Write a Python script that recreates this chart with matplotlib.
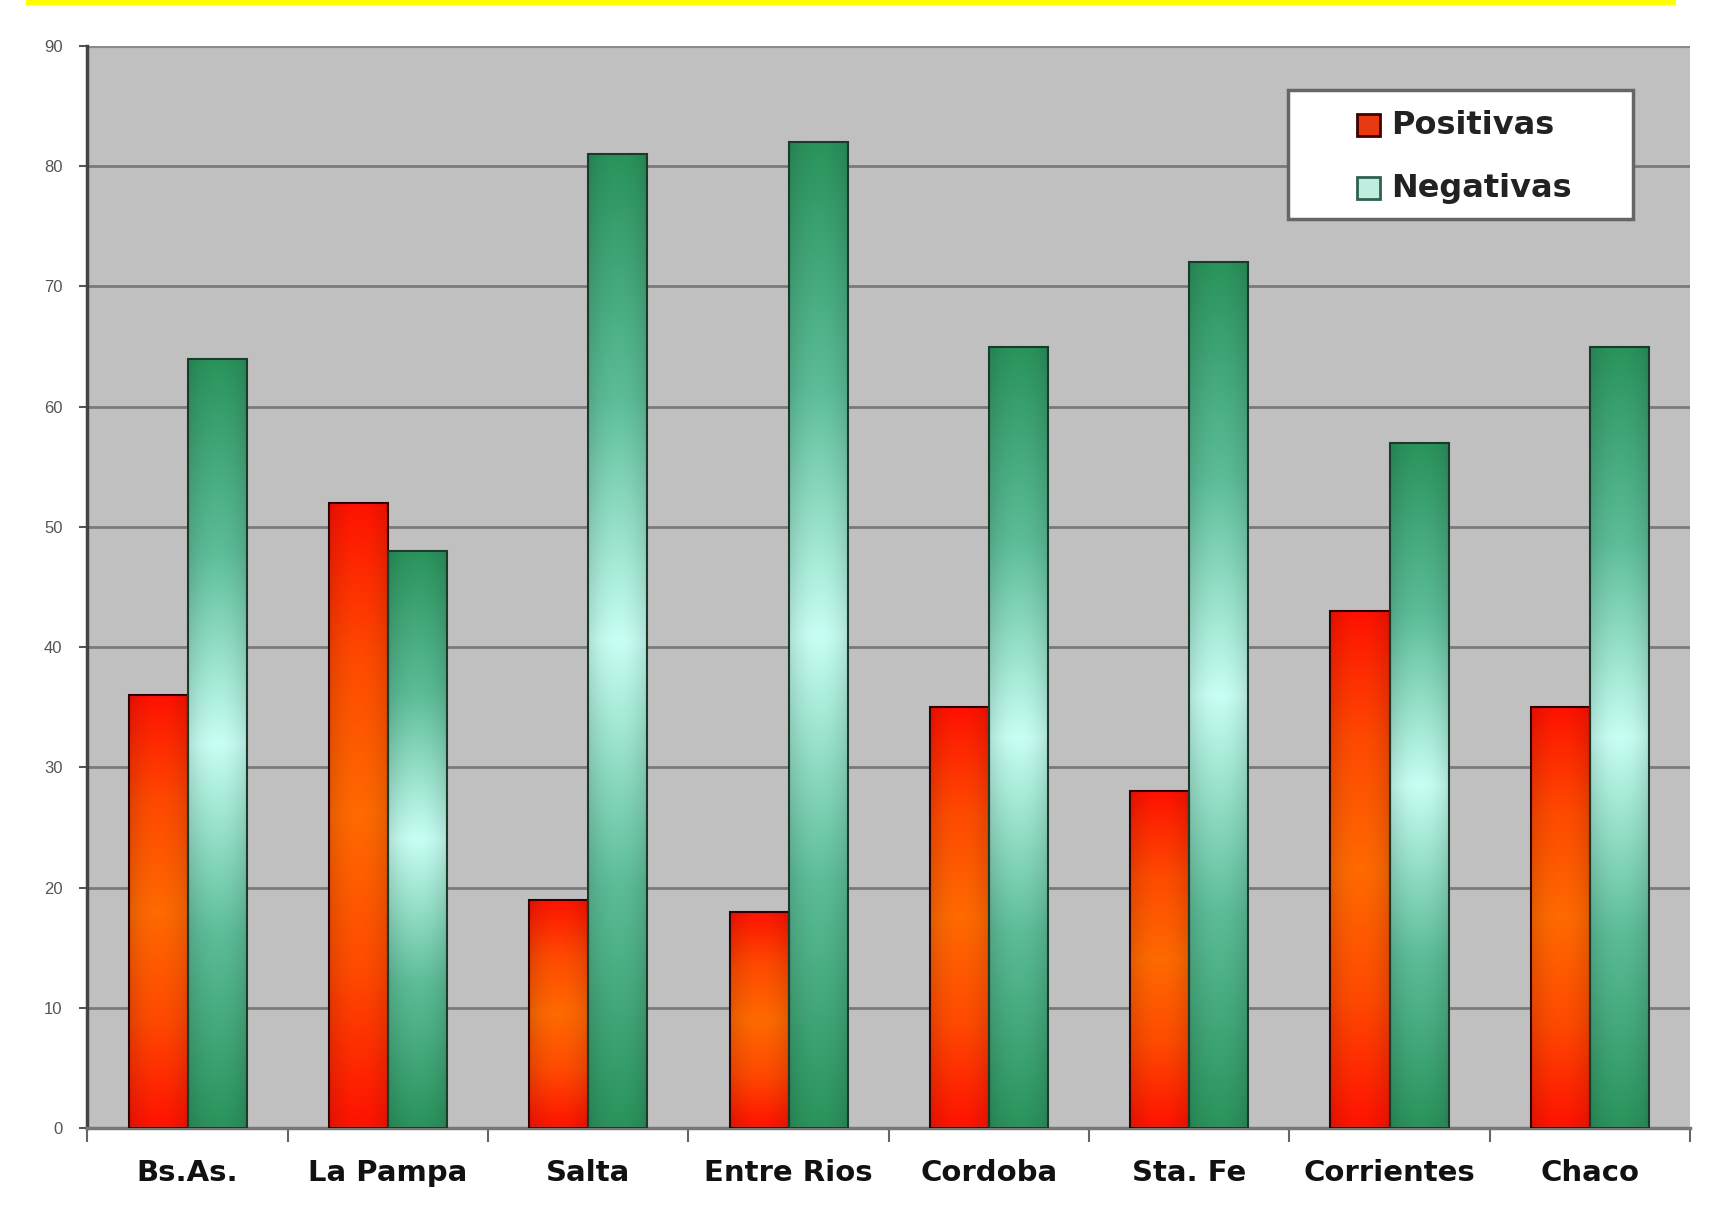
import numpy as np
import matplotlib
matplotlib.use("Agg")
import matplotlib.pyplot as plt
from matplotlib.colors import LinearSegmentedColormap
from matplotlib.patches import Rectangle

categories = ["Bs.As.", "La Pampa", "Salta", "Entre Rios", "Cordoba", "Sta. Fe", "Corrientes", "Chaco"]
positivas = [36, 52, 19, 18, 35, 28, 43, 35]
negativas = [64, 48, 81, 82, 65, 72, 57, 65]
series_names = ["Positivas", "Negativas"]
yticks = list(range(0, 100, 10))

W, H = 1715, 1210
fig = plt.figure(figsize=(W / 100, H / 100), dpi=100)
fig.patch.set_facecolor("white")
# yellow band on top
fig.add_artist(Rectangle((26 / W, 1 - 5 / H), 1650 / W, 5 / H,
                         transform=fig.transFigure, facecolor="#ffff00", edgecolor="none"))

ax = fig.add_axes([87.5 / W, 1 - 1128 / H, (1690 - 87.5) / W, (1128 - 46) / H])
ax.set_facecolor("#c0c0c0")
ax.set_axisbelow(True)

x = np.arange(len(categories))
w = 0.295

red_cmap = LinearSegmentedColormap.from_list("r", ["#ff1200", "#ff4a00", "#ff6a00", "#ff4a00", "#ff1200"])
grn_cmap = LinearSegmentedColormap.from_list("g", ["#2a935c", "#5cbd98", "#c8fff4", "#5cbd98", "#2a935c"])

def grad_bars(bars, cmap):
    for b in bars:
        x0, y0 = b.get_x(), b.get_y()
        bw, bh = b.get_width(), b.get_height()
        v = np.linspace(0, 1, 256)[:, None]
        hx = np.linspace(-1, 1, 32)[None, :]
        img = cmap(np.repeat(v, 32, axis=1))
        shade = 1 - 0.12 * np.abs(hx) ** 2
        img[..., :3] *= shade[..., None]
        im = ax.imshow(img, extent=[x0, x0 + bw, y0, y0 + bh], origin="lower",
                       aspect="auto", zorder=2, interpolation="bilinear")
        im.set_clip_path(b)
        b.set_facecolor("none")

b1 = ax.bar(x - w / 2, positivas, w, edgecolor="#300000", linewidth=1.5, zorder=3)
b2 = ax.bar(x + w / 2, negativas, w, edgecolor="#1a3a2a", linewidth=1.5, zorder=3)
grad_bars(b1, red_cmap)
grad_bars(b2, grn_cmap)

ax.set_xlim(-0.5, len(categories) - 0.5)
ax.set_ylim(0, 90)
ax.set_yticks(yticks)
ax.set_yticklabels([str(t) for t in yticks], fontsize=12, color="#555555", family="Liberation Sans")
ax.yaxis.grid(True, color="#7a7a7a", linewidth=2)

ax.set_xticks(x)
ax.set_xticklabels(categories, fontsize=21, fontweight="bold", family="DejaVu Sans", color="#111111")
ax.tick_params(axis="x", length=0, pad=22)
ax.set_xticks(np.arange(-0.5, len(categories), 1.0), minor=True)
ax.tick_params(axis="x", which="minor", length=10, width=1.5, color="#666666")
ax.tick_params(axis="y", length=6, width=1.5, color="#555555", pad=12)

for s in ["top", "right"]:
    ax.spines[s].set_visible(False)
ax.spines["left"].set_color("#444444")
ax.spines["left"].set_linewidth(2.5)
ax.spines["bottom"].set_color("#777777")
ax.spines["bottom"].set_linewidth(2.5)
ax.axhline(90, color="#8a8a8a", linewidth=3, zorder=1)

# legend box, drawn manually in figure pixel coordinates
def fx(px):
    return px / W

def fy(py):
    return 1 - py / H

fig.add_artist(Rectangle((fx(1288), fy(219)), fx(1633) - fx(1288), fy(90) - fy(219),
                         transform=fig.transFigure, facecolor="white", edgecolor="#666666",
                         linewidth=2.5, zorder=10))
swatch_colors = [("#e83a12", "#400000"), ("#bfeee0", "#306050")]
rows_y = [125, 188]
for name, (fc, ec), ry in zip(series_names, swatch_colors, rows_y):
    fig.add_artist(Rectangle((fx(1357), fy(ry + 11)), fx(1380) - fx(1357), fy(ry - 11) - fy(ry + 11),
                             transform=fig.transFigure, facecolor=fc, edgecolor=ec,
                             linewidth=2, zorder=11))
    fig.text(fx(1391), fy(ry), name, ha="left", va="center", fontsize=23, fontweight="bold",
             family="DejaVu Sans", color="#222222", zorder=12)

fig.savefig("out.png", dpi=100)
